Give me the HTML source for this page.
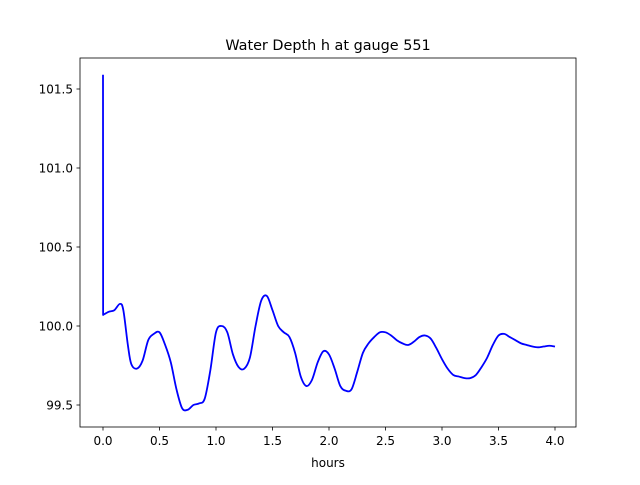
<!DOCTYPE html>
<html><head><meta charset="utf-8"><style>
body{margin:0;background:#fff}
svg text{font-family:"DejaVu Sans","Liberation Sans",sans-serif;fill:#000}
</style></head><body>
<svg id="chart" width="640" height="480">
<rect x="0" y="0" width="640" height="480" fill="#fff"/>
<text x="328" y="50" font-size="14.4" text-anchor="middle">Water Depth h at gauge 551</text>
<g id="xt"></g>
<g id="yt"></g>
<path id="line" fill="none" stroke="#0000ff" stroke-width="1.8" stroke-linejoin="round"/>
<rect x="80" y="58" width="496" height="369" fill="none" stroke="#000" stroke-width="0.8"/>
<text x="328" y="467" font-size="12" text-anchor="middle">hours</text>
</svg>
<script>
const hours=[0,0.001,0.05,0.1,0.15,0.18,0.22,0.25,0.3,0.35,0.4,0.45,0.5,0.55,0.6,0.65,0.7,0.75,0.8,0.85,0.9,0.95,1.0,1.05,1.1,1.15,1.2,1.25,1.3,1.35,1.4,1.45,1.5,1.55,1.6,1.65,1.7,1.75,1.8,1.85,1.9,1.95,2.0,2.05,2.1,2.15,2.2,2.25,2.3,2.35,2.4,2.45,2.5,2.55,2.6,2.65,2.7,2.75,2.8,2.85,2.9,2.95,3.0,3.05,3.1,3.15,3.2,3.25,3.3,3.35,3.4,3.45,3.5,3.55,3.6,3.65,3.7,3.75,3.8,3.85,3.9,3.95,4.0];
const depth=[101.59,100.07,100.09,100.10,100.14,100.10,99.88,99.76,99.73,99.78,99.91,99.95,99.96,99.88,99.77,99.6,99.48,99.47,99.5,99.51,99.54,99.72,99.96,100.0,99.96,99.82,99.74,99.73,99.8,100.0,100.16,100.19,100.1,100.0,99.96,99.93,99.83,99.68,99.62,99.66,99.77,99.84,99.82,99.73,99.62,99.59,99.6,99.71,99.83,99.89,99.93,99.96,99.96,99.94,99.91,99.89,99.88,99.9,99.93,99.94,99.92,99.86,99.79,99.73,99.69,99.68,99.67,99.67,99.69,99.74,99.8,99.88,99.94,99.95,99.93,99.91,99.89,99.88,99.87,99.865,99.87,99.875,99.87];
const xTicks=[0,0.5,1,1.5,2,2.5,3,3.5,4];
const xTickLabels=["0.0","0.5","1.0","1.5","2.0","2.5","3.0","3.5","4.0"];
const yTicks=[99.5,100,100.5,101,101.5];
const yTickLabels=["99.5","100.0","100.5","101.0","101.5"];
const X=v=>103+v*113, Y=v=>405-(v-99.5)*158;
const NS="http://www.w3.org/2000/svg";
function mk(t,a,p){const e=document.createElementNS(NS,t);for(const k in a)e.setAttribute(k,a[k]);p.appendChild(e);return e;}
const xt=document.getElementById('xt'),yt=document.getElementById('yt');
xTicks.forEach((v,i)=>{const l=mk('line',{x1:X(v),x2:X(v),y1:427,y2:430.5,stroke:'#000','stroke-width':0.8},xt);


const t=mk('text',{x:X(v),y:445,'font-size':12,'text-anchor':'middle'},xt);t.textContent=xTickLabels[i];

});
yTicks.forEach((v,i)=>{const l=mk('line',{x1:76.5,x2:80,y1:Y(v),y2:Y(v),stroke:'#000','stroke-width':0.8},yt);


const t=mk('text',{x:73,y:Y(v)+4.5,'font-size':12,'text-anchor':'end'},yt);t.textContent=yTickLabels[i];

});
const P=hours.map((h,i)=>[X(h),Y(depth[i])]);
let d=`M${P[0][0]},${P[0][1]}L${P[1][0]},${P[1][1]}`;
for(let i=1;i<P.length-1;i++){const p0=P[Math.max(1,i-1)],p1=P[i],p2=P[i+1],p3=P[Math.min(P.length-1,i+2)];
d+=`C${p1[0]+(p2[0]-p0[0])/6},${p1[1]+(p2[1]-p0[1])/6} ${p2[0]-(p3[0]-p1[0])/6},${p2[1]-(p3[1]-p1[1])/6} ${p2[0]},${p2[1]}`;}
document.getElementById('line').setAttribute('d',d);
</script>
</body></html>
